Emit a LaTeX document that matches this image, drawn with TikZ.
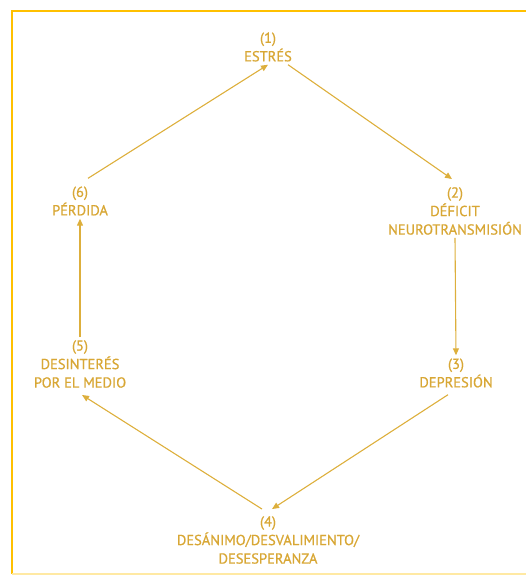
\documentclass[tikz,border=0pt]{standalone}
\usepackage{fontspec}
\setmainfont{PT Sans}[FakeBold=0.8]
\usetikzlibrary{positioning,arrows.meta}
\definecolor{gold}{HTML}{D8A735}
\definecolor{goldline}{HTML}{DDAF3C}
\definecolor{frame}{HTML}{FFC000}
\definecolor{framelight}{HTML}{FFE9A3}

\begin{document}
\begin{tikzpicture}[x=1pt,y=-1pt]
        \tikzset{every node/.style={inner sep=3pt, align=center, text=gold, font=\fontsize{14.5}{18.5}\selectfont}}
        \tikzset{cyc/.style={draw=goldline, line width=1.1pt, -{Triangle[length=7pt,width=6pt]}}}
        \useasboundingbox (0,0) rectangle (526,575);
        % frame
        \draw [frame, line width=2pt] (526,11) -- (12,11) -- (12,574);
        \draw [framelight, line width=2pt] (12,574) -- (526,574);
        % stages
        \node (n1) at (268,47) {(1)\\ESTRÉS};
        \node (n2) at (455,211) {(2)\\DÉFICIT\\NEUROTRANSMISIÓN};
        \node (n3) at (456,373) {(3)\\DEPRESIÓN};
        \node (n4) at (268,540) {(4)\\DESÁNIMO/DESVALIMIENTO/\\DESESPERANZA};
        \node (n5) at (80,364) {(5)\\DESINTERÉS\\POR EL MEDIO};
        \node (n6) at (80,201) {(6)\\PÉRDIDA};
        % cycle
        \draw [cyc] ([xshift=20]n1.south) -- ([xshift=-3,yshift=5]n2.north);
        \draw [cyc] (n2.south) -- (n3.north);
        \draw [cyc] ([xshift=-8,yshift=-4]n3.south) -- ([xshift=4,yshift=4]n4.north);
        \draw [cyc] ([xshift=-6,yshift=4]n4.north) -- ([xshift=2,yshift=-4]n5.south);
        \draw [cyc] (n5.north) -- (n6.south);
        \draw [cyc] ([xshift=8,yshift=5]n6.north) -- (n1.south);
\end{tikzpicture}
\end{document}
